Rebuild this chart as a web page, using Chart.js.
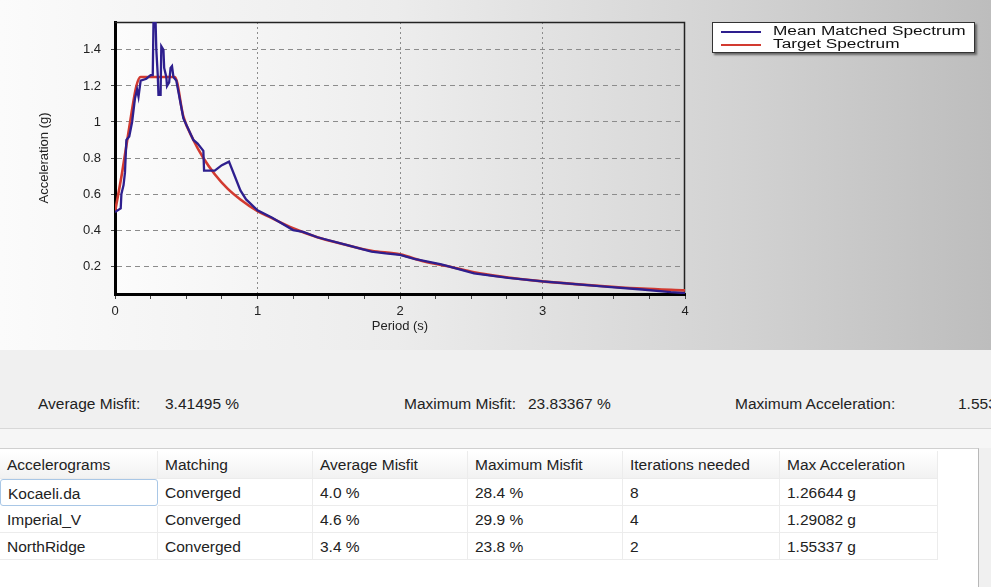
<!DOCTYPE html>
<html>
<head>
<meta charset="utf-8">
<script src="https://cdn.jsdelivr.net/npm/chart.js@4.4.1/dist/chart.umd.min.js"></script>
<style>
  html, body { margin: 0; padding: 0; }
  body { width: 991px; height: 587px; overflow: hidden; position: relative; background: #f0f0f0; font-family: "Liberation Sans", Arial, sans-serif; }
  #top { position: absolute; left: 0; top: 0; width: 991px; height: 350px;
         background: linear-gradient(to right, #fbfbfb 0%, #ececec 40%, #d2d2d2 75%, #bdbdbd 100%); }
  #legend { position: absolute; left: 712px; top: 22px; width: 261px; height: 29px; background: #fff;
            border: 1px solid #333; box-shadow: 2px 2px 2px #666; font-size: 12.5px; color: #111; }
  #legend .row { position: absolute; left: 8px; height: 13px; line-height: 13px; white-space: nowrap; }
  #legend .sw { display: inline-block; width: 40px; height: 2px; vertical-align: middle; margin-right: 12px; }
  #legend .txt { display: inline-block; transform: scaleX(1.38); transform-origin: left center; }
  #stats span { position: absolute; top: 395px; font-size: 15.5px; color: #222; white-space: nowrap; }
  #band { position: absolute; left: 0; top: 428px; width: 991px; height: 19px; background: #f6f6f6; border-top: 1px solid #d8d8d8; }
  #grid { position: absolute; left: 0; top: 448px; width: 978px; height: 139px; background: #fff; border-top: 1px solid #d0d0d0; border-right: 1px solid #b8b8b8; }
  .cell { position: absolute; font-size: 15.5px; color: #222; white-space: nowrap; box-sizing: border-box; padding-left: 7px;
          border-right: 1px solid #ececec; border-bottom: 1px solid #ececec; }
  .hdr { background: linear-gradient(#ffffff, #f2f2f2); }
  .sel { border: 1px solid #a9c7e6; border-radius: 3px; }
</style>
</head>
<body>
<div id="top">
  <canvas id="spec" width="991" height="350"></canvas>
  <div id="legend">
    <div class="row" style="top:2px"><span class="sw" style="background:#2e1f8e"></span><span class="txt">Mean Matched Spectrum</span></div>
    <div class="row" style="top:15px"><span class="sw" style="background:#d23a30"></span><span class="txt">Target Spectrum</span></div>
  </div>
</div>
<div id="stats">
  <span style="left:38px">Average Misfit:</span>
  <span style="left:165px">3.41495 %</span>
  <span style="left:404px">Maximum Misfit:</span>
  <span style="left:528px">23.83367 %</span>
  <span style="left:735px">Maximum Acceleration:</span>
  <span style="left:958px">1.55337 g</span>
</div>
<div id="band"></div>
<div id="grid"></div>
<script>
// spectrum values
const meanPeriod = [0, 0.04, 0.045, 0.06, 0.07, 0.08, 0.10, 0.12, 0.14, 0.155, 0.165, 0.18, 0.22, 0.25, 0.265, 0.27, 0.285, 0.29, 0.30, 0.305, 0.32, 0.325, 0.34, 0.345, 0.36, 0.365, 0.38, 0.39, 0.40, 0.41, 0.43,
  0.48, 0.55, 0.58, 0.62, 0.625, 0.70, 0.75, 0.80, 0.84, 0.88, 0.92, 1.00, 1.10, 1.25, 1.32, 1.42, 1.61, 1.80, 1.90, 2.00, 2.10, 2.29, 2.52, 2.76, 3.00, 3.23, 3.46, 3.70, 3.90, 4.00];
const meanAccel = [0.50, 0.52, 0.60, 0.65, 0.72, 0.90, 0.92, 1.00, 1.13, 1.18, 1.14, 1.23, 1.24, 1.26, 1.26, 1.55, 1.55, 1.40, 1.26, 1.15, 1.15, 1.42, 1.40, 1.30, 1.25, 1.20, 1.22, 1.30, 1.31, 1.25, 1.23,
  1.02, 0.90, 0.88, 0.84, 0.73, 0.73, 0.76, 0.78, 0.70, 0.62, 0.57, 0.51, 0.47, 0.40, 0.39, 0.36, 0.32, 0.28, 0.27, 0.262, 0.24, 0.21, 0.16, 0.135, 0.115, 0.10, 0.085, 0.07, 0.055, 0.05];

const targetPeriod = [0, 0.05, 0.10, 0.15, 0.18, 0.42, 0.48, 0.55, 0.62, 0.70, 0.79, 0.88, 1.00, 1.09, 1.25, 1.42, 1.61, 1.80, 2.00, 2.17, 2.36, 2.52, 2.76, 3.00, 3.23, 3.46, 3.70, 4.00];
const targetAccel = [0.50, 0.72, 0.97, 1.20, 1.25, 1.25, 1.03, 0.90, 0.80, 0.71, 0.63, 0.57, 0.505, 0.47, 0.41, 0.36, 0.32, 0.285, 0.265, 0.225, 0.195, 0.165, 0.137, 0.115, 0.10, 0.087, 0.075, 0.065];

const xTickValues = [0, 0.25, 0.5, 0.75, 1, 1.25, 1.5, 1.75, 2, 2.25, 2.5, 2.75, 3, 3.25, 3.5, 3.75, 4];
const yTickValues = [0.2, 0.4, 0.6, 0.8, 1, 1.2, 1.4];

// table below the chart
const tableHeaders = ['Accelerograms', 'Matching', 'Average Misfit', 'Maximum Misfit', 'Iterations needed', 'Max Acceleration'];
const tableRows = [
  ['Kocaeli.da', 'Converged', '4.0 %', '28.4 %', '8', '1.26644 g'],
  ['Imperial_V', 'Converged', '4.6 %', '29.9 %', '4', '1.29082 g'],
  ['NorthRidge', 'Converged', '3.4 %', '23.8 %', '2', '1.55337 g']
];

const colLeft = [0, 158, 313, 468, 623, 780, 938];
const rowTop = [2, 30, 57, 84, 111];

const grid = document.getElementById('grid');
const addCell = (txt, c, r, cls) => {
  const d = document.createElement('div');
  d.className = 'cell' + (cls ? ' ' + cls : '');
  d.style.left = colLeft[c] + 'px';
  d.style.top = rowTop[r] + 'px';
  d.style.width = (colLeft[c + 1] - colLeft[c]) + 'px';
  d.style.height = (rowTop[r + 1] - rowTop[r]) + 'px';
  d.style.lineHeight = (rowTop[r + 1] - rowTop[r]) + 'px';
  d.textContent = txt;
  grid.appendChild(d);
};
tableHeaders.forEach((h, c) => addCell(h, c, 0, 'hdr'));
tableRows.forEach((row, r) => row.forEach((v, c) => addCell(v, c, r + 1, (r === 0 && c === 0) ? 'sel' : '')));

const toPoints = (xs, ys) => xs.map((x, i) => ({ x: x, y: ys[i] }));

const plotFrame = {
  id: 'plotFrame',
  beforeDraw(chart) {
    const { ctx, chartArea: a } = chart;
    const g = ctx.createLinearGradient(a.left, 0, a.right, 0);
    g.addColorStop(0, '#fcfcfc');
    g.addColorStop(0.5, '#ededed');
    g.addColorStop(1, '#d8d8d8');
    ctx.save();
    ctx.fillStyle = g;
    ctx.fillRect(a.left, a.top, a.right - a.left, a.bottom - a.top);
    ctx.restore();
  },
  beforeDatasetsDraw(chart) {
    const { ctx, chartArea: a } = chart;
    ctx.save();
    ctx.strokeStyle = '#222';
    ctx.lineWidth = 1.5;
    ctx.beginPath();
    ctx.moveTo(a.left, a.top + 0.5);
    ctx.lineTo(a.right - 0.5, a.top + 0.5);
    ctx.lineTo(a.right - 0.5, a.bottom);
    ctx.stroke();
    ctx.restore();
  }
};

const axisFont = { family: 'Liberation Sans', size: 13 };

new Chart(document.getElementById('spec').getContext('2d'), {
  type: 'line',
  data: {
    datasets: [{
      label: 'Mean Matched Spectrum',
      data: toPoints(meanPeriod, meanAccel),
      borderColor: '#2e1f8e',
      borderWidth: 2.3,
      pointRadius: 0
    }, {
      label: 'Target Spectrum',
      data: toPoints(targetPeriod, targetAccel),
      borderColor: '#d23a30',
      borderWidth: 2.6,
      pointRadius: 0,
      cubicInterpolationMode: 'monotone'
    }]
  },
  options: {
    responsive: false,
    animation: false,
    devicePixelRatio: 1,
    layout: { padding: { left: 0, top: 22, right: 306, bottom: 0 } },
    plugins: { legend: { display: false }, tooltip: { enabled: false } },
    scales: {
      x: {
        type: 'linear',
        min: 0,
        max: 4,
        afterBuildTicks: s => { s.ticks = xTickValues.map(v => ({ value: v })); },
        afterFit: s => { s.height = 56; },
        ticks: {
          autoSkip: false,
          maxRotation: 0,
          padding: 5,
          color: '#222',
          font: axisFont,
          callback: v => Number.isInteger(v) ? String(v) : ''
        },
        grid: {
          color: c => (c.tick && Number.isInteger(c.tick.value) && c.tick.value > 0 && c.tick.value < 4) ? '#8c8c8c' : 'rgba(0,0,0,0)',
          tickColor: '#444',
          tickLength: 5
        },
        border: { color: '#000', width: 3, dash: [2, 3] },
        title: { display: true, text: 'Period (s)', color: '#222', font: axisFont, padding: { top: 0, bottom: 16 } }
      },
      y: {
        min: 0.045,
        max: 1.555,
        afterBuildTicks: s => { s.ticks = yTickValues.map(v => ({ value: v })); },
        afterFit: s => { s.width = 115; },
        ticks: {
          padding: 10,
          color: '#222',
          font: axisFont,
          callback: v => String(Math.round(v * 10) / 10)
        },
        grid: { color: '#8c8c8c', tickColor: '#444', tickLength: 4 },
        border: { color: '#000', width: 3, dash: [5, 4] },
        title: { display: true, text: 'Acceleration (g)', color: '#222', font: axisFont, padding: { top: 37, bottom: 0 } }
      }
    }
  },
  plugins: [plotFrame]
});
</script>
</body>
</html>
